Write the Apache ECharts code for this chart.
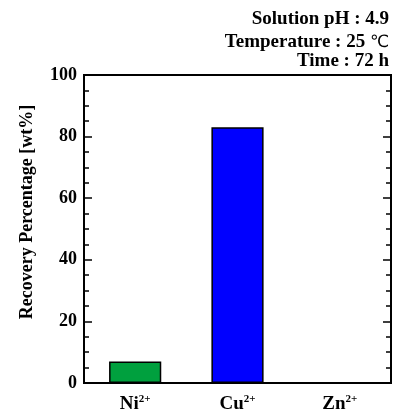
<!DOCTYPE html>
<html>
<head>
<meta charset="utf-8">
<script src="https://cdn.jsdelivr.net/npm/echarts@6/dist/echarts.min.js"></script>
<style>
  html, body { margin: 0; padding: 0; background: #fff; }
  #chart { width: 398px; height: 416px; }
</style>
</head>
<body>
<div id="chart"></div>
<script>
const ions = ["Ni", "Cu", "Zn"];
const recovery = [7, 83, 0];
const barColors = ["#00a03e", "#0000ff", "#888888"];
const conditions = ["Solution pH : 4.9", "Temperature : 25 ", "Time : 72 h"];

const serif = "Liberation Serif, Times New Roman, serif";
const chart = echarts.init(document.getElementById("chart"), null, { renderer: "canvas" });

chart.setOption({
  animation: false,
  title: [
    { text: conditions[0], right: 9, top: 10 },
    { text: "{t|" + conditions[1] + "}{c|℃}", right: 9, top: 33 },
    { text: conditions[2], right: 9, top: 52 },
  ].map((t) => ({
    ...t,
    padding: 0,
    textStyle: {
      fontFamily: serif, fontWeight: "bold", fontSize: 19, color: "#000",
      rich: {
        t: { fontFamily: serif, fontWeight: "bold", fontSize: 19, color: "#000" },
        c: { fontFamily: "DejaVu Sans", fontWeight: "normal", fontSize: 17, color: "#000" },
      },
    },
  })),
  grid: { left: 84, right: 7, top: 75, bottom: 33, show: true, borderColor: "#000", borderWidth: 2, backgroundColor: "transparent" },
  xAxis: {
    type: "category",
    data: ions,
    axisLine: { lineStyle: { color: "#000", width: 2 } },
    axisTick: { show: false },
    axisLabel: {
      margin: 11,
      formatter: (v) => "{b|" + v + "}{s|2+}",
      rich: {
        b: { fontFamily: serif, fontWeight: "bold", fontSize: 19, color: "#000" },
        s: { fontFamily: serif, fontWeight: "bold", fontSize: 11, color: "#000", verticalAlign: "top", padding: [0, 0, 9, 0] },
      },
    },
  },
  yAxis: [
    {
      type: "value",
      min: 0, max: 100, interval: 20,
      name: "Recovery Percentage [wt%]",
      nameLocation: "middle",
      nameGap: 48,
      nameTextStyle: { fontFamily: serif, fontWeight: "bold", fontSize: 18, color: "#000", padding: [0, 0, 0, 34] },
      axisLine: { show: true, lineStyle: { color: "#000", width: 2 } },
      axisTick: { show: true, inside: true, length: 8, lineStyle: { color: "#000", width: 1.5 } },
      minorTick: { show: true, splitNumber: 4, length: 5, lineStyle: { color: "#000", width: 1.5 } },
      axisLabel: { fontFamily: serif, fontWeight: "bold", fontSize: 18, color: "#000", margin: 7 },
      splitLine: { show: false },
    },
    {
      type: "value",
      min: 0, max: 100, interval: 20,
      position: "right",
      axisLine: { show: true, lineStyle: { color: "#000", width: 2 } },
      axisTick: { show: true, inside: true, length: 8, lineStyle: { color: "#000", width: 1.5 } },
      minorTick: { show: true, splitNumber: 4, length: 5, lineStyle: { color: "#000", width: 1.5 } },
      axisLabel: { show: false },
      splitLine: { show: false },
    },
  ],
  series: [
    {
      type: "bar",
      data: recovery.map((v, i) => ({ value: v, itemStyle: { color: barColors[i] } })),
      barWidth: "51%",
      itemStyle: { borderColor: "#000", borderWidth: 1.5 },
    },
  ],
});
</script>
</body>
</html>
